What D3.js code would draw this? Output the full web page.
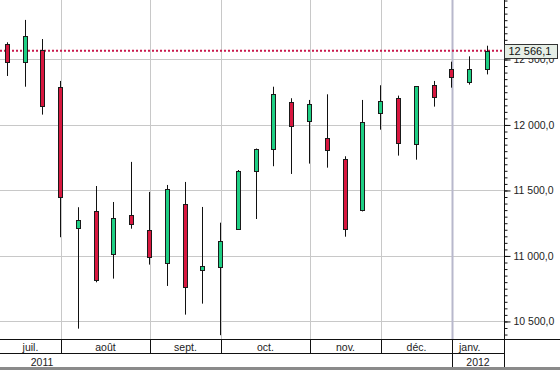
<!DOCTYPE html>
<html>
<head>
<meta charset="utf-8">
<script src="https://cdn.jsdelivr.net/npm/d3@7"></script>
<style>
  body { margin: 0; background: #fff; }
  svg { display: block; font-family: "Liberation Sans", Arial, sans-serif; }
</style>
</head>
<body>
<div id="chart"></div>
<script>
// weekly candles, week start dates
var weeks = ["2011-07-11","2011-07-18","2011-07-25","2011-08-01","2011-08-08","2011-08-15","2011-08-22",
  "2011-08-29","2011-09-05","2011-09-12","2011-09-19","2011-09-26","2011-10-03","2011-10-10",
  "2011-10-17","2011-10-24","2011-10-31","2011-11-07","2011-11-14","2011-11-21","2011-11-28",
  "2011-12-05","2011-12-12","2011-12-19","2011-12-26","2012-01-02","2012-01-09","2012-01-16"];
var opens  = [12621,12479,12573,12288,11211,11344,11013,11316,11198,10944,11395,10891,10911,11209,
  11651,11812,12173,12028,11901,11738,11346,12086,12204,11857,12303,12425,12326,12432];
var highs  = [12631,12802,12656,12336,11372,11534,11412,11718,11489,11542,11565,11374,11254,11656,
  11820,12292,12204,12191,12234,11761,12191,12303,12224,12296,12336,12483,12524,12605];
var lows   = [12374,12292,12079,11143,10445,10799,10827,11208,10934,10771,10552,10636,10395,11205,
  11282,11685,11626,11705,11674,11147,11340,11964,11766,11735,12140,12285,12308,12386];
var closes = [12486,12679,12147,11448,11275,10819,11288,11247,10995,11511,10765,10921,11112,11649,
  11817,12234,11990,12158,11807,11201,12021,12181,11857,12296,12208,12364,12425,12566.1];
var monthNames = ["janv.","févr.","mars","avr.","mai","juin","juil.","août","sept.","oct.","nov.","déc."];
var yTicks = [10500, 11000, 11500, 12000, 12500];
var lastValue = 12566.1;

var width = 560, height = 370,
    plotW = 504, plotH = 339, rowH = 15;

var parse = d3.timeParse("%Y-%m-%d");
var data = weeks.map(function(w, i) {
  return {date: parse(w), o: opens[i], h: highs[i], l: lows[i], c: closes[i]};
});

var x = d3.scaleBand()
    .domain(weeks)
    .range([-1.6, -1.6 + 17.78 * weeks.length]);
var cx = function(d, i) { return x(weeks[i]) + x.bandwidth() / 2; };

var y = d3.scaleLinear().domain([10366, 12954]).range([plotH, 0]);

var fr = d3.formatLocale({decimal: ",", thousands: "\u00a0", grouping: [3], currency: ["", ""]});
var fmt = fr.format(",.1f");

var svg = d3.select("#chart").append("svg")
    .attr("width", width)
    .attr("height", height);

// month boundaries: first week of each new month
var bounds = [];
data.forEach(function(d, i) {
  if (i > 0 && d.date.getMonth() != data[i - 1].date.getMonth()) bounds.push(i);
});

// horizontal grid
svg.append("g").selectAll("line")
    .data(yTicks)
    .enter().append("line")
    .attr("x1", 0).attr("x2", plotW)
    .attr("y1", function(d) { return Math.round(y(d)) + 0.5; })
    .attr("y2", function(d) { return Math.round(y(d)) + 0.5; })
    .attr("stroke", "#c8c8c8");

// vertical month grid
svg.append("g").selectAll("line")
    .data(bounds)
    .enter().append("line")
    .attr("x1", function(i) { return Math.floor(cx(null, i)) + 1.5; })
    .attr("x2", function(i) { return Math.floor(cx(null, i)) + 1.5; })
    .attr("y1", 0).attr("y2", plotH)
    .attr("stroke", function(i) { return data[i].date.getMonth() == 0 ? "#b8b8cc" : "#c8c8c8"; })
    .attr("stroke-width", function(i) { return data[i].date.getMonth() == 0 ? 2 : 1; });

// last value line
svg.append("line")
    .attr("x1", 0).attr("x2", plotW)
    .attr("y1", y(lastValue)).attr("y2", y(lastValue))
    .attr("stroke", "#c8184c")
    .attr("stroke-width", 2)
    .attr("stroke-dasharray", "2,2");

// candles
var candle = svg.append("g").selectAll(".candle")
    .data(data)
    .enter().append("g")
    .attr("class", "candle");

candle.append("line")
    .attr("x1", function(d, i) { return Math.floor(cx(d, i)) + 0.5; })
    .attr("x2", function(d, i) { return Math.floor(cx(d, i)) + 0.5; })
    .attr("y1", function(d) { return y(d.h); })
    .attr("y2", function(d) { return y(d.l); })
    .attr("stroke", "#111");

candle.append("rect")
    .attr("x", function(d, i) { return Math.floor(cx(d, i)) - 2 + 0.5; })
    .attr("width", 4)
    .attr("y", function(d) { return Math.round(y(Math.max(d.o, d.c))) + 0.5; })
    .attr("height", function(d) { return Math.max(1, Math.round(Math.abs(y(d.o) - y(d.c)))); })
    .attr("fill", function(d) { return d.c >= d.o ? "#1ecf84" : "#d8173f"; })
    .attr("stroke", "#1a1a1a");

// right axis
var axisG = svg.append("g")
    .attr("transform", "translate(" + (plotW + 0.5) + ",0)");

axisG.append("g")
    .call(d3.axisRight(y).tickValues(d3.range(10400, 12951, 50)).tickSize(3).tickFormat(""))
    .call(function(g) { g.select(".domain").remove(); })
    .selectAll("line").attr("stroke", "#111");

axisG.append("g")
    .call(d3.axisRight(y).tickValues(yTicks).tickSize(6).tickPadding(3).tickFormat(fmt))
    .call(function(g) { g.select(".domain").remove(); })
    .call(function(g) {
      g.selectAll("line").attr("stroke", "#111");
      g.selectAll("text").attr("font-size", "10.5px").attr("fill", "#222")
        .attr("font-family", "Liberation Sans, Arial, sans-serif");
    });

axisG.append("line")
    .attr("y1", 0).attr("y2", height - 2)
    .attr("stroke", "#111");

// last value label (covers the 12 500 tick label, as in the original)
var lbl = svg.append("g")
    .attr("transform", "translate(" + (plotW + 0.5) + "," + (Math.round(y(lastValue)) - 7 + 0.5) + ")");
lbl.append("rect")
    .attr("width", 53).attr("height", 14)
    .attr("fill", "#e6eee6")
    .attr("stroke", "#333");
lbl.append("text")
    .attr("x", 4).attr("y", 7).attr("dy", "0.35em")
    .attr("font-size", "11px")
    .attr("fill", "#111")
    .text(fmt(lastValue));

// bottom time axis rows
var bottom = svg.append("g");
bottom.append("line")
    .attr("x1", 0).attr("x2", width)
    .attr("y1", plotH + 0.5).attr("y2", plotH + 0.5)
    .attr("stroke", "#111");
bottom.append("line")
    .attr("x1", 0).attr("x2", plotW)
    .attr("y1", plotH + rowH - 0.5).attr("y2", plotH + rowH - 0.5)
    .attr("stroke", "#111");
bottom.append("line")
    .attr("x1", 0).attr("x2", width)
    .attr("y1", height - 1.5).attr("y2", height - 1.5)
    .attr("stroke", "#8a8a8a")
    .attr("stroke-width", 3);

var starts = [0].concat(bounds);
var months = starts.map(function(s, k) {
  var x0 = k == 0 ? 0 : Math.floor(cx(null, s)) + 1;
  var x1 = k < bounds.length ? Math.floor(cx(null, bounds[k])) + 1 : cx(null, data.length - 1);
  return {x0: x0, x1: x1, name: monthNames[data[s].date.getMonth()]};
});

bottom.selectAll(".msep")
    .data(bounds)
    .enter().append("line")
    .attr("x1", function(i) { return Math.floor(cx(null, i)) + 1.5; })
    .attr("x2", function(i) { return Math.floor(cx(null, i)) + 1.5; })
    .attr("y1", plotH)
    .attr("y2", function(i) { return data[i].date.getMonth() == 0 ? height - 3 : plotH + rowH; })
    .attr("stroke", "#111");

bottom.selectAll(".mlabel")
    .data(months)
    .enter().append("text")
    .attr("x", function(d) { return (d.x0 + d.x1) / 2; })
    .attr("y", plotH + 8)
    .attr("dy", "0.35em")
    .attr("text-anchor", "middle")
    .attr("font-size", "10.5px")
    .attr("fill", "#222")
    .text(function(d) { return d.name; });

var janX = Math.floor(cx(null, bounds[bounds.length - 1])) + 1;
var years = [{label: "2011", x: 42}, {label: "2012", x: (janX + plotW) / 2}];
bottom.selectAll(".ylabel")
    .data(years)
    .enter().append("text")
    .attr("x", function(d) { return d.x; })
    .attr("y", plotH + rowH + 8)
    .attr("dy", "0.35em")
    .attr("text-anchor", "middle")
    .attr("font-size", "10.5px")
    .attr("fill", "#222")
    .text(function(d) { return d.label; });
</script>
</body>
</html>
